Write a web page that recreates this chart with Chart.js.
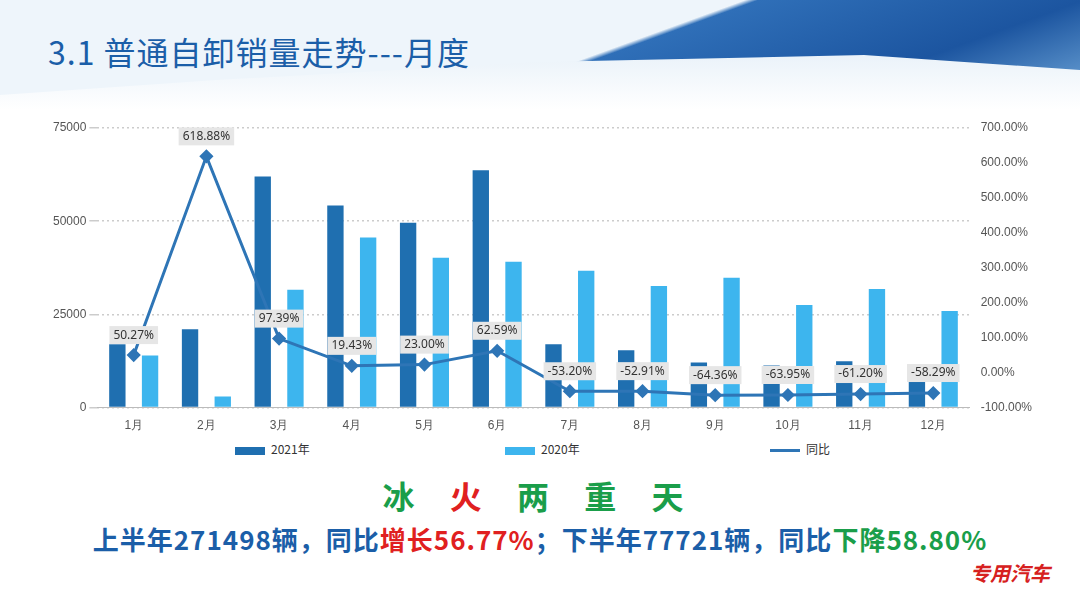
<!DOCTYPE html>
<html><head><meta charset="utf-8">
<script src="https://cdn.jsdelivr.net/npm/chart.js@4"></script>
<style>
body{margin:0;width:1080px;height:608px;overflow:hidden;font-family:"Noto Sans CJK SC","Noto Sans",sans-serif;
background:linear-gradient(180deg,#d6e6f4 0px,#ffffff 110px,#ffffff 100%);position:relative}
#top{position:absolute;left:0;top:0;width:1080px;height:100px;
background:linear-gradient(160deg,#eef5fb 0%,#eef5fb 55%,#2f6fb8 56%,#1c55a0 80%,#6fa6d8 100%);
clip-path:polygon(0 0,100% 0,100% 70%,80% 55%,50% 62%,20% 80%,0 95%)}
#title{position:absolute;left:48px;top:28px;font-size:32px;color:#1b5ea8;letter-spacing:1px}
#wrap{position:absolute;left:50px;top:116px;width:985px;height:320px}
.lg{position:absolute;top:440px;font-size:12px;color:#333}
.sw{display:inline-block;width:30px;height:8px;margin-right:6px;vertical-align:middle}
#h1{position:absolute;top:472px;width:1080px;text-align:center;font-size:32px;font-weight:bold;letter-spacing:14px}
#h2{position:absolute;top:520px;width:1080px;text-align:center;font-size:26px;font-weight:bold;color:#1b5ea8;letter-spacing:1px}
#logo{position:absolute;right:30px;top:558px;color:#d62020;font-style:italic;font-weight:bold;font-size:20px}
</style></head><body>
<div id="top"></div>
<div id="title">3.1 普通自卸销量走势---月度</div>
<div id="wrap"><canvas id="c" width="985" height="320"></canvas></div>
<div class="lg" style="left:235px"><span class="sw" style="background:#1f6fb0"></span>2021年</div>
<div class="lg" style="left:505px"><span class="sw" style="background:#3db5ee"></span>2020年</div>
<div class="lg" style="left:770px"><span class="sw" style="height:3px;background:#2e75b6"></span>同比</div>
<div id="h1"><span style="color:#1a9e4a">冰</span> <span style="color:#e02020">火</span> <span style="color:#1a9e4a">两</span> <span style="color:#1a9e4a">重</span> <span style="color:#1a9e4a">天</span></div>
<div id="h2">上半年271498辆，同比<span style="color:#e02020">增长56.77%</span>；下半年77721辆，同比<span style="color:#1a9e4a">下降58.80%</span></div>
<div id="logo">专用汽车</div>
<script>
const months = ["1月","2月","3月","4月","5月","6月","7月","8月","9月","10月","11月","12月"];
const sales2021 = [17000,21000,62000,54200,49600,63700,17000,15400,12100,11300,12400,10800];
const sales2020 = [14000,3000,31600,45600,40200,39100,36700,32600,34800,27500,31800,25900];
const yoy = [50.27,618.88,97.39,19.43,23.00,62.59,-53.20,-52.91,-64.36,-63.95,-61.20,-58.29];

const labelPlugin = {
  id: "yoyLabels",
  afterDatasetsDraw(chart) {
    const ctx = chart.ctx;
    const meta = chart.getDatasetMeta(0);
    ctx.save();
    ctx.font = "12px 'Noto Sans', sans-serif";
    ctx.textAlign = "center";
    ctx.textBaseline = "middle";
    meta.data.forEach((p, i) => {
      const t = yoy[i].toFixed(2) + "%";
      const w = ctx.measureText(t).width + 8;
      const y = p.y - 20;
      ctx.fillStyle = "#e6e6e6";
      ctx.fillRect(p.x - w / 2, y - 9, w, 18);
      ctx.fillStyle = "#333";
      ctx.fillText(t, p.x, y);
    });
    ctx.restore();
  }
};

new Chart(document.getElementById("c"), {
  data: {
    labels: months,
    datasets: [
      { type: "line", data: yoy, yAxisID: "y1", borderColor: "#2e75b6", backgroundColor: "#2e75b6",
        borderWidth: 3, pointStyle: "rectRot", pointRadius: 5, order: 0 },
      { type: "bar", data: sales2021, yAxisID: "y", backgroundColor: "#1f6fb0", barPercentage: 0.5, categoryPercentage: 0.9, order: 1 },
      { type: "bar", data: sales2020, yAxisID: "y", backgroundColor: "#3db5ee", barPercentage: 0.5, categoryPercentage: 0.9, order: 1 }
    ]
  },
  options: {
    responsive: false, animation: false,
    layout: { padding: { top: 12, bottom: 0 } },
    plugins: { legend: { display: false }, tooltip: { enabled: false } },
    scales: {
      x: { grid: { display: false }, border: { color: "#bbb" }, ticks: { color: "#555", font: { size: 12 } } },
      y: { min: 0, max: 75000, ticks: { stepSize: 25000, color: "#555", font: { size: 12 }, callback: v => String(v) },
           grid: { color: "#ccc", lineWidth: 1.5 }, border: { display: false, dash: [2, 3] } },
      y1: { position: "right", min: -100, max: 700, ticks: { stepSize: 100, color: "#555", font: { size: 12 },
            callback: v => v.toFixed(2) + "%" }, grid: { display: false }, border: { display: false } }
    }
  },
  plugins: [labelPlugin]
});
</script>
</body></html>
